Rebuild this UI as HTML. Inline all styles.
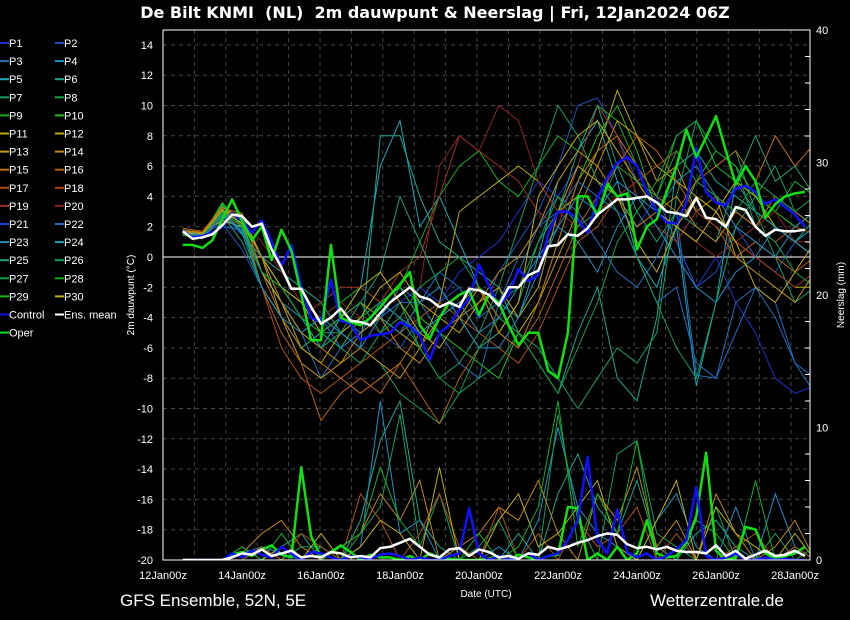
<!DOCTYPE html>
<html><head><meta charset="utf-8">
<style>
html,body{margin:0;padding:0;background:#000;}
svg{display:block;font-family:"Liberation Sans","DejaVu Sans",sans-serif;}
</style></head>
<body>
<svg id="chart" width="850" height="620" viewBox="0 0 850 620">
<rect x="0" y="0" width="850" height="620" fill="#000"/>
<text x="435" y="18" fill="#fff" font-size="16" font-weight="bold" text-anchor="middle" xml:space="preserve" style="font-family:'DejaVu Sans',sans-serif">De Bilt KNMI  (NL)  2m dauwpunt &amp; Neerslag | Fri, 12Jan2024 06Z</text>
<text x="120" y="606" fill="#fff" font-size="17">GFS Ensemble, 52N, 5E</text>
<text x="650" y="606" fill="#fff" font-size="17">Wetterzentrale.de</text>
<text x="486" y="597" fill="#fff" font-size="10" text-anchor="middle">Date (UTC)</text>
<text transform="translate(134,295) rotate(-90)" fill="#fff" font-size="10" text-anchor="middle">2m dauwpunt (°C)</text>
<text transform="translate(844,295) rotate(-90)" fill="#fff" font-size="10" text-anchor="middle">Neerslag (mm)</text>
<g id="grid"></g>
<g id="precip"></g>
<g id="temps"></g>
<g id="axes"></g>
<g id="legend"></g>
</svg>
<script>
const NS="http://www.w3.org/2000/svg";
const xTickLabels=["12Jan 00z","14Jan 00z","16Jan 00z","18Jan 00z","20Jan 00z","22Jan 00z","24Jan 00z","26Jan 00z","28Jan 00z"];
const yTicks=[14,12,10,8,6,4,2,0,-2,-4,-6,-8,-10,-12,-14,-16,-18,-20];
const y2Ticks=[0,10,20,30,40];
const memberNames=["P1","P2","P3","P4","P5","P6","P7","P8","P9","P10","P11","P12","P13","P14","P15","P16","P17","P18","P19","P20","P21","P22","P23","P24","P25","P26","P27","P28","P29","P30"];
const memberColors=["#1a30d0","#1f50c0","#1f70c0","#1a90c8","#18a8c0","#18a890","#10a060","#10a040","#10b020","#20c010","#b8b010","#c0a810","#c09810","#c08810","#c07010","#b86010","#b05010","#b04018","#a03020","#902020","#1a40d0","#1a70c8","#1890c0","#18a8b8","#18a078","#10a060","#10a040","#10b020","#20b810","#c0b010"];
const meanT=[1.7,1.2,1.3,1.5,2.1,2.8,2.7,2.0,2.2,0.5,-0.7,-2.1,-2.1,-3.3,-4.4,-4.0,-3.4,-4.2,-4.3,-4.5,-3.7,-3.0,-2.5,-2.0,-2.6,-2.8,-3.3,-3.0,-3.3,-2.1,-2.2,-2.5,-3.2,-2.0,-2.0,-1.2,-0.9,0.7,0.8,1.5,1.4,1.9,2.8,3.3,3.8,3.8,3.9,4.0,3.6,3.0,2.9,2.7,3.9,2.6,2.5,2.0,3.3,3.1,2.0,1.4,1.8,1.7,1.7,1.8];
const controlT=[1.7,1.3,1.4,1.6,2.0,2.9,2.4,1.6,2.4,1.0,-0.6,0.8,-2.0,-4.0,-4.3,-1.5,-4.2,-4.4,-5.5,-5.2,-5.1,-5.0,-4.3,-4.6,-5.2,-6.8,-5.0,-4.5,-3.5,-2.8,-0.5,-1.9,-3.2,-2.5,-0.8,-1.6,-1.2,1.5,3.0,3.0,2.5,1.6,3.9,5.2,6.2,6.6,6.0,4.3,3.0,2.3,2.2,3.6,7.2,4.3,3.6,3.4,4.5,4.7,4.3,3.5,3.8,3.3,2.8,2.0];
const operT=[0.8,0.8,0.6,1.1,2.5,3.8,2.4,1.1,2.0,-0.2,1.8,0.4,-2.5,-5.5,-5.5,0.8,-4.0,-4.3,-4.5,-4.0,-3.3,-2.5,-1.8,-1.0,-4.5,-5.4,-4.0,-3.0,-2.5,-2.2,-3.8,-2.5,-3.0,-4.5,-5.8,-5.0,-5.0,-7.5,-8.0,-5.0,4.0,4.0,2.7,4.8,4.0,4.2,0.5,2.0,2.5,4.3,6.0,8.4,6.6,7.9,9.3,7.0,4.8,6.0,5.0,2.6,3.5,4.0,4.2,4.3];
const m1=[1.5,1.2,2.5,1.5,-1,-3,-5,-4,-6,-5,-4,-3,-2,-3,-1,0,1,3,5,4,6,5,3,2,4,1,-2,0,-3,-5,-8,-9,-8.5];
const m2=[1.8,1.5,2.2,0.5,-2,-4,-6,-5,-4,-3,-5,-6,-4,-3,-2,-4,-1,1,3,6,10,10.5,8,5,4,1,-2,-1,2,0,-1,1,2];
const m3=[1.6,1.4,3,2,-1,-3,-5,-8,-6,-5,-4,-2,-3,-5,-7,-8,-3,-1,2,4,3,1,-1,-2,0,3,-7.8,-8,-3,-2,-4,-7,-9];
const m4=[1.7,1.3,3.2,1.5,0,-2,-3,-5,-4,-2,6,9,2,4,1,-2,-3,-4,0,5,7,9,5,0,-2,2,-8.5,-3,5,3,2,1,2];
const m5=[1.5,1.6,2.7,2.5,0,-1,-2,-3,-5,-6,8,8,4,1,0,-1,-2,-5,-7,-9,-5,-2,-8,-9.5,-4,6,7,5,4,3,2,1,2.5];
const m6=[1.6,1.2,2.8,1,-2,-4,-6,-5,-5,-6,-7,-9,-10,-11,-9,-8,-7,-5,-6,-8,-10,-8,-6,-7,-5,4,9,6,7,3,0,-3,-2];
const m7=[1.7,1.5,3.5,2,-1,-2,-3,-4,-3,-2,-3,-2,1,4,6,7,5,4,6,8,7,10,9,6,4,8,9,6,5,4,3,5,4];
const m8=[1.4,1.4,3.6,2,-1,-2,-4,-5,-6,-4,-3,-2,-4,-5,-6,-7,-8,-5,-3,1,5,8,10,7,3,2,5,7,6,4,3,2,3];
const m9=[1.8,1.6,2.4,2,-1,-3,-5,-6,-4,-3,-4,-5,-6,-3,3,4,5,6,5,3,4,7,11,8,6,5,4,3,1,0,-1,-2,-2];
const m10=[1.7,1.4,2.9,2.5,0,-4,-7,-8,-7,-6,-7,-8,-6,-4,-3,-2,-4,-5,-3,0,3,6,9,8,5,6,3,4,0,-1,-2,-3,-1];
const m11=[1.9,1.7,3.1,2.2,-2,-5,-7,-10.8,-9,-8,-9,-7,-9,-11,-8,-6,-5,-6,-4,-1,2,4,6,8,7,5,3,2,0,1,0,-1,0];
const m12=[1.6,1.7,3.3,2.6,-2,-6,-8,-9,-8,-7,-6,-5,-4,-3,-4,-5,-6,-7,-5,-2,1,2,4,5,6,7,5,4,3,2,1,2,1.5];
const m13=[1.8,1.5,2.6,2.1,0,-2,-4,-3,-2,-2,-3,-1,0,4,8,7,6,5,3,2,6,10,8,4,2,1,3,2,1,0,-1,-2,-1];
const m14=[1.7,1.6,3,2.4,1,-1,-3,-4,-3,-4,-5,-4,-2,6,8,7,10,9,5,3,2,3,4,5,3,2,1,0,1,2,3,1,1];
const m15=[1.5,1.3,2.0,1.8,-1,-3,-5,-4,-6,-5,-4,-3,-3,-1,-2,-4,-3,0,2,3,5,4,3,0,-3,-2,-7,-8,-5,-2,-3,-7,-8];
const m16=[1.7,1.5,2.9,2.3,0,-2,-4,-6,-5,-3,-1,4,1,-2,-4,-6,-5,-3,1,3,7,10,6,3,1,3,2,1,5,8,5,6,4];
const m17=[1.6,1.4,3.4,2,-2,-4,-6,-5,-6,-7,-5,-3,-6,-8,-7,-5,-2,2,6,10,8,5,3,0,-3,-6,-8,-3,2,4,6,3,2];
const m18=[1.7,1.5,3,2.8,0,-2,-3,-5,-4,-2,-1,-3,-5,-6,-4,-2,-5,-3,4,6,8,9,7,5,3,2,1,3,5,4,2,1,0];
const m19=[1.8,1.6,3.2,2.9,-1,-4,-6,-7,-8,-9,-8,-7,-5,-4,-3,-2,-5,-6,-3,1,5,7,8,6,4,3,5,6,7,5,8,6,7.5];
const m20=[1.6,1.4,3.0,1.7,-1,-3,-5,-6,-5,-4,-3,-4,-6,-8,-9,-6,-4,-5,-7,-9,-6,-3,1,3,5,8,9,7,6,2,1,-1,-2];
const m21=[1.7,1.3,2.6,1.9,-1,-3,-4,-6,-4,-5,-3,-4,-5,-4,-3,-5,-4,-2,0,2,4,3,5,4,2,0,-2,-3,-1,0,2,1,0];
const m22=[1.6,1.5,3.1,2.2,-1,-3,-6,-7,-5,-4,-2,-1,-3,-4,-5,-3,-2,-4,-2,3,6,5,4,1,-1,2,4,3,1,-2,-3,-1,1];
const m23=[1.8,1.4,2.8,1.6,-2,-4,-5,-4,-5,-6,-4,-5,-3,-2,-4,-6,-6,-4,-1,2,1,-1,2,4,3,5,6,4,2,1,0,2,3];
const m24=[1.7,1.6,3.3,2.4,0,-3,-5,-6,-7,-5,-4,-6,-7,-5,-4,-3,-1,0,2,5,7,6,4,2,3,4,2,1,3,2,4,3,2];
const m25=[1.5,1.4,2.9,2.1,-1,-2,-4,-5,-4,-3,-5,-4,-2,-1,0,-2,-3,-2,1,4,2,3,6,5,4,7,5,4,3,5,4,3,4];
const members=[m1,m2,m3,m4,m5,m6,m7,m8,m9,m10,m11,m12,m13,m14,m15,m16,m17,m18,m19,m20,m21,m22,m23,m24,m25];
const memberColorIdx=[0,1,2,23,5,6,27,9,10,12,15,16,18,19,21,24,25,29,14,7,3,11,22,13,26];
const meanP=[0,0,0,0,0,0.2,0.5,0.4,0.8,0.3,0.5,0.7,0.2,0.3,0.2,0.6,0.5,0.2,0.3,0.2,0.9,1.0,1.3,1.6,1.0,0.4,0.2,0.8,0.9,0.3,0.8,0.6,0.2,0.3,0.1,0.5,0.4,1.0,0.8,1.0,1.3,1.5,1.8,2.0,1.9,1.2,0.9,1.0,0.8,1.0,0.7,0.6,0.6,0.5,1.1,0.3,0.7,0.1,0.4,0.7,0.3,0.4,0.7,0.3];
const controlP=[0,0,0,0,0,0.5,0.2,0.7,0.4,0.2,1,0.5,0,0.6,0.5,0.2,0,0.3,0.2,0.1,0.4,0.5,0.3,0,0.2,0,0,0.3,0.5,3.9,0.5,0,0.3,0,0.1,0.5,0,0.3,0.5,1.5,3,7.8,1.5,0.5,3.8,0.6,0.2,0.5,0,0.3,0.8,1.5,5.5,0.3,0,0.2,0.5,0,0,0.2,0,0.1,0,0];
const operP=[0,0,0,0,0,0.4,0.6,0.3,0.8,1.1,0.4,0.2,7.0,1.8,0.2,0.6,1.1,0.6,0,0.4,0.2,0.2,0,0.3,0,0.5,0.2,0.1,0,0,0,0.1,0.3,0,0.4,0.2,0,0.3,0.4,4.0,3.9,0,0.5,0,1.0,0,0.5,3.0,0.5,0.2,0.3,1.3,3.3,8.1,0.7,0,0.2,2.5,2.3,0.5,0.1,0.3,0.5,1.0];
const pm1=[0,0,0,0.5,1,0.5,0,1,0,1,12,2,3,0,0,0,1,0,3,10,4,2,1,0,3,5,1,0,4,0,5,1,0];
const pm2=[0,0,0,1,0,1,2,0,0,3,9,12,3,1,0,0,0,2,0,5,8,4,2,6,1,0,2,3,1,0,0,1,0];
const pm3=[0,0,0,0,1,0,1,1,0,2,4,11,1,5,0,1,3,0,0,11,3,0,8,9,2,1,0,4,0,0,2,0,0];
const pm4=[0,0,0,0.5,2,3,1,0,1,2,5,3,6,0,1,2,4,3,6,2,0,5,3,7,1,3,0,5,2,0,1,3,0];
const pm5=[0,0,0,0,1,0,2,1,0,5,3,0,2,5,1,0,4,0,2,0,3,1,2,4,0,2,0,0,1,2,0,1,0];
const pm6=[0,0,0,0,0,1,0,2,0,1,3,2,0,7,0,0,3,5,1,2,4,6,1,0,3,6,0,4,2,1,0,2,0];
const pm7=[0,0,0,1,0,2,0,0,1,2,7,3,1,0,0,2,0,1,4,12,1,5,2,9,0,0,3,2,0,6,0,0,1];
const precipMembers=[pm1,pm2,pm3,pm4,pm5,pm6,pm7];
const precipColorIdx=[3,5,6,13,16,29,8];

const X0=163,X1=810,Y0=30,Y1=560,DAYPX=39.5;
function xH(h){return X0+(12+h)*DAYPX/24;}
function xDay(d){return X0+d*DAYPX;}
function yT(v){return 257-v*15.15;}
function yP(v){return 560-v*13.25;}
function el(tag,attrs,parent){const e=document.createElementNS(NS,tag);for(const k in attrs)e.setAttribute(k,attrs[k]);parent.appendChild(e);return e;}
function pts(arr,step,yf){return arr.map((v,i)=>xH(i*step).toFixed(1)+","+yf(v).toFixed(1)).join(" ");}

const grid=document.getElementById("grid");
for(let x=X0+31.4;x<X1;x+=31.4){
  const g=el("line",{x1:x,x2:x,y1:Y0,y2:Y1,stroke:"#444","stroke-dasharray":"4,4","stroke-width":1},grid);
  
  
}
yTicks.forEach(v=>{
  if(v===0)return;
  const g=el("line",{x1:X0,x2:X1,y1:yT(v),y2:yT(v),stroke:"#444","stroke-dasharray":"4,4","stroke-width":1},grid);
  
  
});
const zl=el("line",{x1:X0,x2:X1,y1:yT(0),y2:yT(0),stroke:"#fff","stroke-width":1},grid);



const clip=el("clipPath",{id:"pc"},document.getElementById("chart"));
el("rect",{x:X0,y:Y0,width:X1-X0,height:Y1-Y0},clip);

const pg=document.getElementById("precip");
pg.setAttribute("clip-path","url(#pc)");
precipMembers.forEach((a,i)=>{
  const p=el("polyline",{points:pts(a,12,yP),fill:"none",stroke:memberColors[precipColorIdx[i]],"stroke-width":1},pg);
  
  
});
const tg=document.getElementById("temps");
tg.setAttribute("clip-path","url(#pc)");
members.forEach((a,i)=>{
  const p=el("polyline",{points:pts(a,12,yT),fill:"none",stroke:memberColors[memberColorIdx[i]],"stroke-width":1},tg);
  
  
});
[[operP,"#10e010","oper-precip-line"],[controlP,"#1010ff","control-precip-line"],[meanP,"#fff","mean-precip-line"]].forEach(s=>{
  const p=el("polyline",{points:pts(s[0],6,yP),fill:"none",stroke:s[1],"stroke-width":2.5,"stroke-linejoin":"round"},tg);
  
  
});
[[controlT,"#1010ff","control-dewpoint-line"],[operT,"#10e010","oper-dewpoint-line"],[meanT,"#fff","mean-dewpoint-line"]].forEach(s=>{
  const p=el("polyline",{points:pts(s[0],6,yT),fill:"none",stroke:s[1],"stroke-width":2.5,"stroke-linejoin":"round"},tg);
  
  
});

const ax=document.getElementById("axes");
const fr=el("rect",{x:X0,y:Y0,width:X1-X0,height:Y1-Y0,fill:"none",stroke:"#fff","stroke-width":1},ax);


yTicks.forEach(v=>{
  const t=el("text",{x:153,y:yT(v)+4,fill:"#fff","font-size":11,"text-anchor":"end"},ax);
  t.textContent=v;
  
  
});
for(let v=0;v<=40;v+=2){
  const l=el("line",{x1:X1,x2:X1-(v%10===0?0:5),y1:yP(v),y2:yP(v),stroke:"#fff","stroke-width":1},ax);
  
  
}
y2Ticks.forEach(v=>{
  const t=el("text",{x:816,y:yP(v)+4,fill:"#fff","font-size":11},ax);
  t.textContent=v;
  
  
});
xTickLabels.forEach((s,i)=>{
  const t=el("text",{x:xDay(i*2),y:579,fill:"#fff","font-size":11,"text-anchor":"middle"},ax);
  t.textContent=s.replace(" ","");
  
  
});

const lg=document.getElementById("legend");
const entries=memberNames.map((n,i)=>[n,memberColors[i]]).concat([["Control","#1010ff"],["Ens. mean","#fff"],["Oper","#10e010"]]);
entries.forEach((e,i)=>{
  const col=i%2,row=Math.floor(i/2);
  const x=col?55:0,y=43+row*18.1;
  const g=el("g",{},lg);
  
  
  el("line",{x1:x,x2:x+9,y1:y,y2:y,stroke:e[1],"stroke-width":2},g);
  const t=el("text",{x:x+9,y:y+4,fill:"#fff","font-size":11},g);
  t.textContent=e[0];
});
</script>
</body></html>
